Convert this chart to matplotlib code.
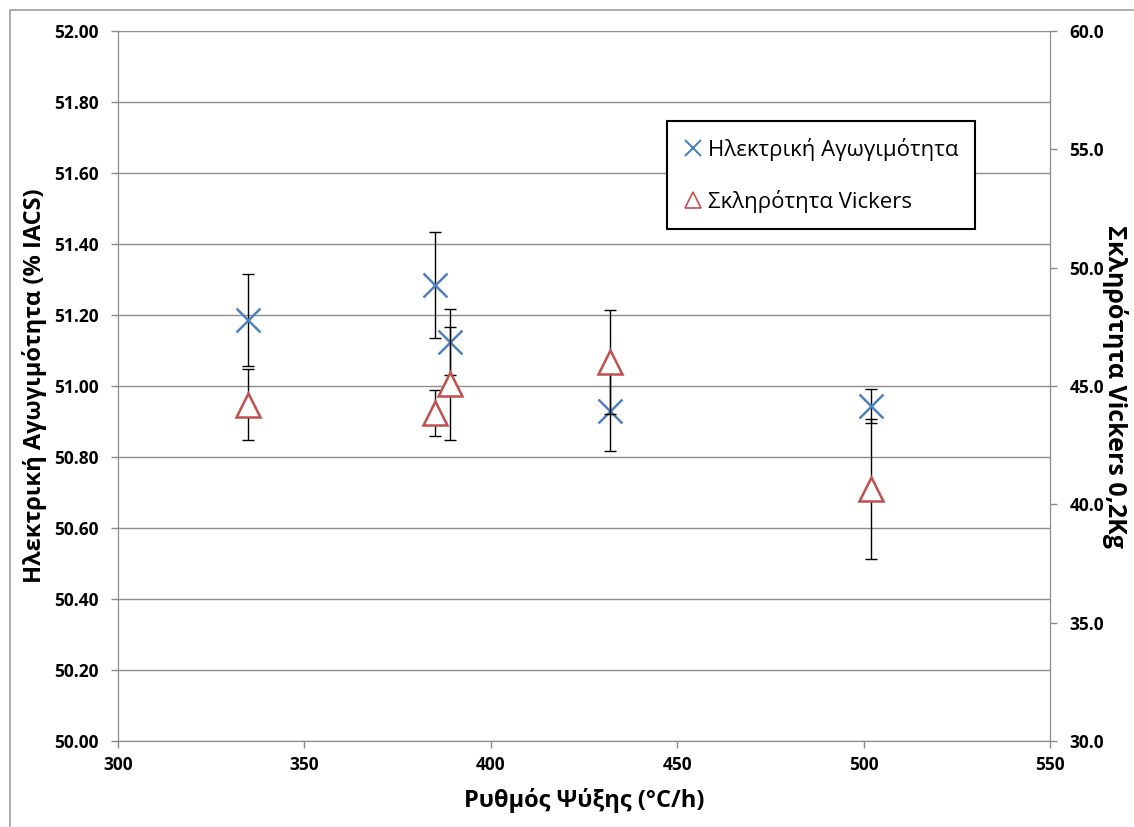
import matplotlib
matplotlib.use("Agg")
import matplotlib.pyplot as plt
from matplotlib.lines import Line2D
from matplotlib.patches import Rectangle

plt.rcParams["font.family"] = ["Open Sans", "DejaVu Sans"]

# cooling rate (°C/h)
rate = [335, 385, 389, 432, 502]

# electrical conductivity (% IACS), left axis
cond = [51.185, 51.284, 51.124, 50.930, 50.944]
cond_err = [0.13, 0.15, 0.092, 0.114, 0.047]

# Vickers hardness 0.2Kg, right axis
hard = [44.2, 43.86, 45.1, 46.0, 40.65]
hard_err = [1.5, 0.97, 2.4, 2.2, 2.97]

BLUE = "#4F81BD"
RED = "#C0504D"
GRID = "#8C8C8C"

fig = plt.figure(figsize=(11.34, 8.27), dpi=100)
fig.patches.append(Rectangle((10 / 1134, -0.01), 1.1, 1 - 10 / 827 + 0.01,
                             transform=fig.transFigure, fill=False,
                             edgecolor="#A0A0A0", linewidth=1.2))

ax = fig.add_axes([0.104, 0.104, 0.822, 0.8585])
ax2 = ax.twinx()

ax.errorbar(rate, cond, yerr=cond_err, fmt="none", ecolor="black",
            elinewidth=1, capsize=4, capthick=1, zorder=3)
ax.plot(rate, cond, linestyle="none", marker="x", markersize=17,
        markeredgewidth=1.8, color=BLUE, zorder=4)

ax2.errorbar(rate, hard, yerr=hard_err, fmt="none", ecolor="black",
             elinewidth=1, capsize=4, capthick=1, zorder=3)
ax2.plot(rate, hard, linestyle="none", marker="^", markersize=17,
         markerfacecolor="white", markeredgecolor=RED, markeredgewidth=1.8,
         zorder=4)

ax.set_xlim(300, 550)
ax.set_ylim(50.0, 52.0)
ax2.set_ylim(30.0, 60.0)
ax.set_xticks(range(300, 551, 50))
ax.set_yticks([50 + 0.2 * i for i in range(11)])
ax2.set_yticks([30 + 5 * i for i in range(7)])
ax.set_yticklabels([f"{50 + 0.2 * i:.2f}" for i in range(11)])
ax2.set_yticklabels([f"{30 + 5 * i:.1f}" for i in range(7)])

ax.grid(axis="y", color=GRID, linewidth=1)
ax.set_axisbelow(True)

for a in (ax, ax2):
    a.spines["top"].set_visible(False)
    for s in ("left", "right", "bottom"):
        a.spines[s].set_color(GRID)
    a.tick_params(colors=GRID, labelcolor="black", labelsize=12.5, length=5,
                  width=1)
    for lab in a.get_xticklabels() + a.get_yticklabels():
        lab.set_fontweight("bold")
ax.tick_params(axis="y", pad=9)
ax2.tick_params(axis="y", pad=9)
ax.tick_params(axis="x", pad=6)

ax.set_xlabel("Ρυθμός Ψύξης (°C/h)", fontsize=17, fontweight="bold",
              labelpad=10)
ax.set_ylabel("Ηλεκτρική Αγωγιμότητα (% IACS)", fontsize=17,
              fontweight="bold", labelpad=5)
ax2.set_ylabel("Σκληρότητα Vickers 0,2Kg", fontsize=18, fontweight="bold",
               rotation=270, labelpad=17)

handles = [
    Line2D([], [], linestyle="none", marker="x", markersize=12,
           markeredgewidth=1.5, color=BLUE),
    Line2D([], [], linestyle="none", marker="^", markersize=12,
           markerfacecolor="white", markeredgecolor=RED, markeredgewidth=1.2),
]
leg = ax2.legend(handles, ["Ηλεκτρική Αγωγιμότητα", "Σκληρότητα Vickers"],
                 loc="upper left", bbox_to_anchor=(0.589, 0.873),
                 fontsize=16, frameon=True, fancybox=False, framealpha=1,
                 edgecolor="black", handlelength=0.8, handletextpad=0.3,
                 labelspacing=1.3, borderpad=0.75, borderaxespad=0)
leg.get_frame().set_linewidth(1.5)

fig.savefig("out.png", dpi=100)
